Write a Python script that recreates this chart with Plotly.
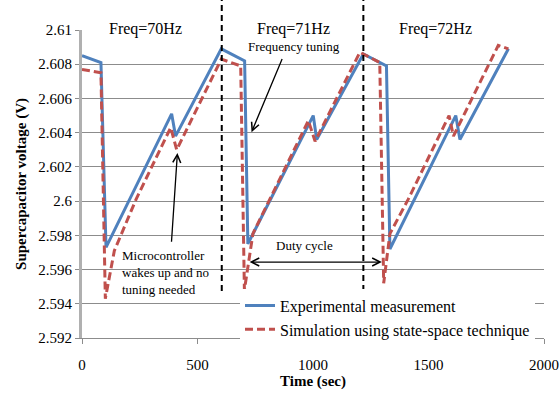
import plotly.graph_objects as go

# ---- data ----
time_exp = [0, 82, 104, 388, 405, 603, 704, 718, 1001, 1016, 1218, 1318, 1333, 1618, 1636, 1846]
volt_exp = [2.6085, 2.6081, 2.5973, 2.6051, 2.6038, 2.6089, 2.6082, 2.5975, 2.6050, 2.6036,
            2.6086, 2.6079, 2.5972, 2.6050, 2.6036, 2.6089]

time_sim = [0, 82, 101, 140, 234, 384, 410, 603, 687, 703, 740, 980, 1009, 1203, 1289, 1306,
            1333, 1412, 1589, 1608, 1802, 1846]
volt_sim = [2.6077, 2.6075, 2.5943, 2.5971, 2.6001, 2.6043, 2.6030, 2.6083, 2.6079, 2.5948,
            2.5981, 2.6047, 2.6035, 2.6087, 2.6081, 2.5952, 2.5981, 2.6001, 2.6050, 2.6038,
            2.6091, 2.6089]

series_names = ["Experimental measurement", "Simulation using state-space technique"]

y_ticks = [2.592, 2.594, 2.596, 2.598, 2.6, 2.602, 2.604, 2.606, 2.608, 2.61]
y_tick_labels = ["2.592", "2.594", "2.596", "2.598", "2.6", "2.602", "2.604", "2.606", "2.608", "2.61"]
x_ticks = [0, 500, 1000, 1500, 2000]

freq_labels = ["Freq=70Hz", "Freq=71Hz", "Freq=72Hz"]
freq_label_x = [274, 916, 1532]
boundaries = [605, 1218]

Y_MIN, Y_MAX = 2.592, 2.61
SERIF = "Liberation Serif"

fig = go.Figure()
fig.add_trace(go.Scatter(x=time_exp, y=volt_exp, mode="lines", name=series_names[0],
                         line=dict(color="#4F81BD", width=3)))
fig.add_trace(go.Scatter(x=time_sim, y=volt_sim, mode="lines", name=series_names[1],
                         line=dict(color="#C0504D", width=3, dash="8px,4px")))

def ypaper(v):
    return (v - Y_MIN) / (Y_MAX - Y_MIN)

for b in boundaries:
    fig.add_shape(type="line", xref="x", yref="paper", x0=b, x1=b,
                  y0=ypaper(2.59474), y1=1.1,
                  line=dict(color="black", width=2, dash="6px,4px"))

for lab, lx in zip(freq_labels, freq_label_x):
    fig.add_annotation(x=lx, y=1.04, xref="x", yref="paper", text=lab, showarrow=False,
                       font=dict(family=SERIF, size=16, color="black"))

# Frequency tuning
fig.add_annotation(x=916, y=2.60906, xref="x", yref="y", text="Frequency tuning",
                   showarrow=False, font=dict(family=SERIF, size=13, color="black"))
fig.add_annotation(x=734, y=2.60403, ax=869, ay=2.6084, xref="x", yref="y", axref="x", ayref="y",
                   text="", showarrow=True, arrowhead=5, arrowsize=1.2, arrowwidth=1.3,
                   arrowcolor="black")
# Microcontroller
fig.add_annotation(x=165, y=2.59585, xref="x", yref="y", xanchor="left",
                   text="Microcontroller<br>wakes up and no<br>tuning needed", align="left",
                   showarrow=False, font=dict(family=SERIF, size=13, color="black"))
fig.add_annotation(x=413, y=2.60281, ax=387, ay=2.59754, xref="x", yref="y", axref="x", ayref="y",
                   text="", showarrow=True, arrowhead=5, arrowsize=1.2, arrowwidth=1.3,
                   arrowcolor="black")
# Duty cycle
fig.add_annotation(x=964, y=2.59743, xref="x", yref="y", text="Duty cycle",
                   showarrow=False, font=dict(family=SERIF, size=13, color="black"))
fig.add_annotation(x=1298, y=2.59644, ax=719, ay=2.59644, xref="x", yref="y", axref="x", ayref="y",
                   text="", showarrow=True, arrowhead=5, arrowside="end+start", arrowsize=1.2,
                   arrowwidth=1.3, arrowcolor="black")

fig.update_layout(
    width=560, height=393,
    margin=dict(l=82, r=16, t=30, b=55, autoexpand=False),
    paper_bgcolor="white", plot_bgcolor="white",
    font=dict(family=SERIF, size=15, color="black"),
    showlegend=True,
    legend=dict(x=0.342, y=-0.028, xanchor="left", yanchor="bottom", bgcolor="white",
                font=dict(family=SERIF, size=16, color="black"),
                tracegroupgap=0, itemwidth=30, borderwidth=0),
)
fig.update_xaxes(range=[0, 2000], tickvals=x_ticks, showgrid=False, zeroline=False,
                 showline=True, linecolor="#8C8C8C", linewidth=1, automargin=False,
                 ticks="outside", ticklen=5, tickcolor="#8C8C8C", ticklabeloverflow="allow",
                 ticklabelstandoff=8,
                 title=dict(text="<b>Time (sec)</b>", standoff=0, font=dict(family=SERIF, size=15)),
                 tickfont=dict(family=SERIF, size=15))
fig.update_yaxes(range=[Y_MIN, Y_MAX], tickvals=y_ticks, ticktext=y_tick_labels,
                 showgrid=True, gridcolor="#8C8C8C", gridwidth=1, zeroline=False,
                 showline=True, linecolor="#B0B0B0", linewidth=3, automargin=False,
                 ticks="outside", ticklen=4, tickcolor="#8C8C8C",
                 title=dict(text="<b>Supercapacitor voltage (V)</b>", standoff=9,
                            font=dict(family=SERIF, size=15)),
                 tickfont=dict(family=SERIF, size=15))

fig.write_html("out.html", config={"displayModeBar": False},
               post_script="document.body.style.margin='0';document.body.style.overflow='hidden';")
